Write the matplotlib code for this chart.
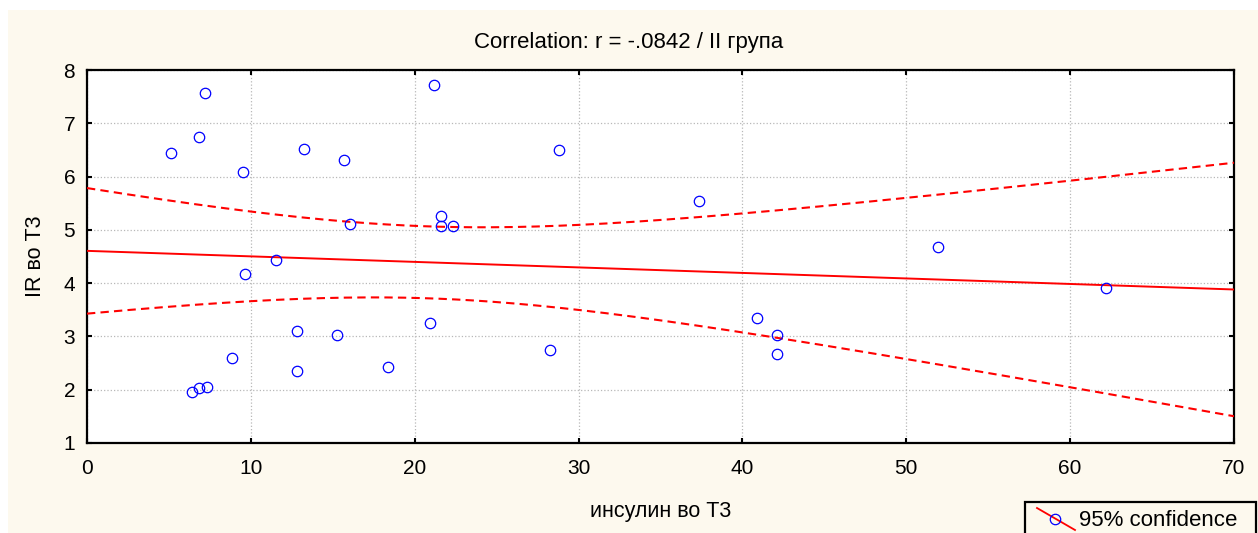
import numpy as np
import matplotlib
matplotlib.use("Agg")
import matplotlib.pyplot as plt
from matplotlib.patches import Rectangle
from matplotlib.lines import Line2D

# values
insulin_t3 = [5.10, 6.85, 7.19, 9.54, 13.25, 15.69, 16.03, 21.17, 21.61, 21.61,
              22.31, 28.83, 11.53, 9.63, 12.80, 15.24, 20.94, 8.84, 12.80, 18.38,
              28.26, 6.40, 6.85, 7.34, 37.35, 51.92, 40.86, 42.14, 42.14, 62.17]
ir_t3 = [6.45, 6.74, 7.56, 6.09, 6.52, 6.31, 5.11, 7.71, 5.26, 5.07,
         5.07, 6.49, 4.44, 4.18, 3.10, 3.03, 3.25, 2.60, 2.35, 2.42,
         2.74, 1.95, 2.03, 2.06, 5.55, 4.68, 3.35, 3.03, 2.67, 3.90]
x_ticks = [0, 10, 20, 30, 40, 50, 60, 70]
y_ticks = [1, 2, 3, 4, 5, 6, 7, 8]
title_text = "Correlation: r = -.0842 / II група"
x_label = "инсулин во Т3"
y_label = "IR во Т3"
legend_text = "95% confidence"
t_975 = 2.048  # t quantile, 28 df

plt.rcParams['font.family'] = ['Liberation Sans', 'DejaVu Sans']

x = np.array(insulin_t3)
y = np.array(ir_t3)
n = len(x)

# linear fit and 95% confidence band of the mean
slope, intercept = np.polyfit(x, y, 1)
resid = y - (intercept + slope * x)
s = np.sqrt(np.sum(resid ** 2) / (n - 2))
xm = x.mean()
sxx = np.sum((x - xm) ** 2)
xx = np.linspace(x_ticks[0], x_ticks[-1], 200)
yy = intercept + slope * xx
half = t_975 * s * np.sqrt(1.0 / n + (xx - xm) ** 2 / sxx)

W, H = 1258, 533
fig = plt.figure(figsize=(W / 100, H / 100), dpi=100)
fig.patch.set_facecolor('white')
fig.add_artist(Rectangle((8 / W, 0), 1, 1 - 10 / H, transform=fig.transFigure,
                         facecolor='#fdf9ee', edgecolor='none', zorder=0))

ax = fig.add_axes([87 / W, 1 - 443 / H, (1234 - 87) / W, (443 - 70) / H])
ax.set_facecolor('white')

ax.plot(xx, yy, color='red', lw=1.4, zorder=3)
ax.plot(xx, yy + half, color='red', lw=1.5, dashes=(4, 2.5), zorder=3)
ax.plot(xx, yy - half, color='red', lw=1.5, dashes=(4, 2.5), zorder=3)
ax.plot(x, y, 'o', ms=7.5, mfc='none', mec='blue', mew=0.9, zorder=4)

ax.set_xlim(x_ticks[0], x_ticks[-1])
ax.set_ylim(y_ticks[0], y_ticks[-1])
ax.set_xticks(x_ticks)
ax.set_yticks(y_ticks)
ax.grid(True, color='#b8b8b8', linestyle=':', linewidth=0.9)
ax.set_axisbelow(True)
for sp in ax.spines.values():
    sp.set_linewidth(1.6)
ax.tick_params(direction='in', length=3.5, width=1.5, top=True, right=True,
               labelsize=15)
ax.tick_params(axis='x', pad=11.5)
ax.tick_params(axis='y', pad=8.5)

ax.set_xlabel(x_label, fontsize=15.5)
ax.xaxis.set_label_coords(0.5, -0.155)
ax.set_ylabel(y_label, fontsize=15.5)
ax.yaxis.set_label_coords(-0.036, 0.5)

fig.text(0.5, 1 - 48 / H, title_text, ha='center', va='baseline', fontsize=16)

# legend box, cut by the lower edge like in the reference
fig.add_artist(Rectangle((1025 / W, -0.05), (1256 - 1025) / W, 0.05 + 1 - 502 / H,
                         transform=fig.transFigure, facecolor='none',
                         edgecolor='black', lw=1.6, zorder=5))
fig.add_artist(Line2D([1037 / W, 1075 / W], [1 - 508 / H, 1 - 530 / H],
                      transform=fig.transFigure, color='red', lw=1.3, zorder=6))
fig.add_artist(Line2D([1055 / W], [1 - 519 / H], transform=fig.transFigure,
                      marker='o', ms=7.5, mfc='none', mec='blue', mew=0.9,
                      ls='none', zorder=7))
fig.text(1079 / W, 1 - 520 / H, legend_text, ha='left', va='center', fontsize=16)

fig.savefig('out.png', dpi=100)
